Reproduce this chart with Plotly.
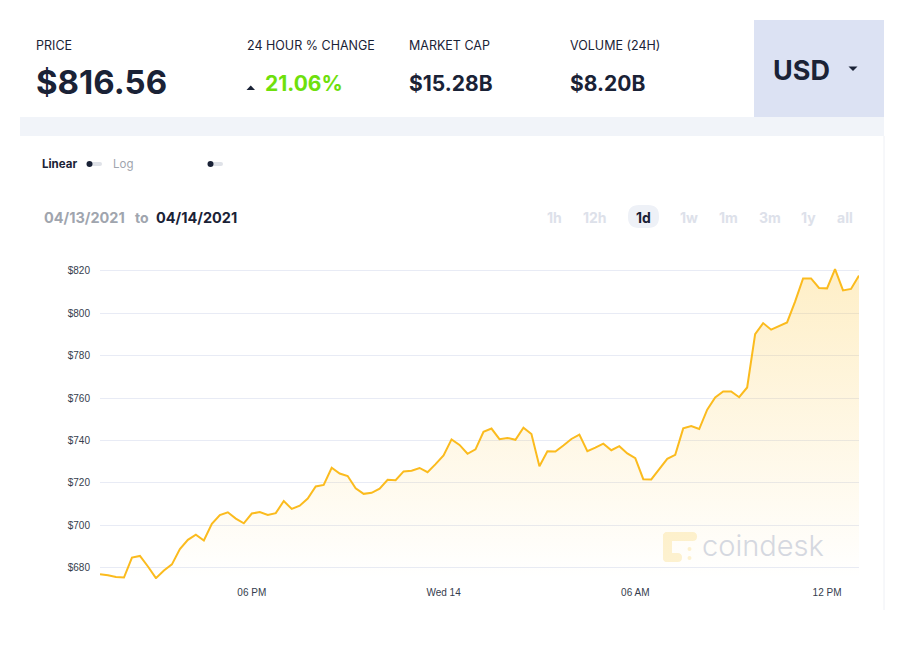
import plotly.graph_objects as go
import pandas as pd

# ---------------- data ----------------
prices = [
    676.9, 676.4, 675.5, 675.3, 684.7, 685.5, 680.5, 675.0, 678.6, 681.5,
    688.7, 693.1, 695.5, 692.8, 700.6, 704.8, 706.1, 703.1, 700.9, 705.5,
    706.2, 704.8, 705.7, 711.4, 707.7, 709.2, 712.6, 718.3, 719.0, 727.1,
    724.4, 723.2, 717.4, 714.8, 715.3, 717.2, 721.4, 721.2, 725.4, 725.7,
    727.0, 725.0, 728.8, 732.9, 740.5, 737.9, 733.7, 735.8, 744.1, 745.6,
    740.6, 741.2, 740.3, 746.0, 743.0, 727.8, 734.9, 734.8, 737.6, 740.7,
    742.8, 734.9, 736.6, 738.5, 735.4, 737.3, 733.9, 731.6, 721.7, 721.6,
    726.5, 731.3, 733.2, 745.7, 746.8, 745.4, 754.5, 760.3, 763.1, 763.1,
    760.4, 765.0, 790.2, 795.4, 792.3, 794.0, 795.7, 805.5, 816.5, 816.5,
    812.0, 811.8, 820.9, 810.8, 811.5, 817.8,
]
times = pd.date_range(start="2021-04-13 13:15", periods=len(prices), freq="15min")

y_tick_vals = [680, 700, 720, 740, 760, 780, 800, 820]
y_tick_text = [f"${v}" for v in y_tick_vals]
x_tick_vals = ["2021-04-13 18:00", "2021-04-14 00:00", "2021-04-14 06:00", "2021-04-14 12:00"]
x_tick_text = ["06 PM", "Wed 14", "06 AM", "12 PM"]

header_labels = ["PRICE", "24 HOUR % CHANGE", "MARKET CAP", "VOLUME (24H)"]
header_values = ["$816.56", "21.06%", "$15.28B", "$8.20B"]
currency = "USD"
periods = ["1h", "12h", "1d", "1w", "1m", "3m", "1y", "all"]
active_period = "1d"
date_from, date_to = "04/13/2021", "04/14/2021"

# ---------------- layout geometry (window pixels) ----------------
OFF = 8                      # page body margin
W, H = 905 - OFF, 672 - OFF  # figure size
L, T, PW, PH = 100, 268, 759, 311   # plot area in window pixels
ML, MT = L - OFF, T - OFF
MR = W - ML - PW
MB = H - MT - PH


def px(x):
    return (x - L) / PW


def py(y):
    return (T + PH - y) / PH


DARK = "#1a2236"
GRAY = "#a0a5ae"
LIGHT = "#dde1ea"
FONT = "Inter"

fig = go.Figure()
fig.add_trace(go.Scatter(
    x=times, y=prices, mode="lines",
    line=dict(color="#fbbb1e", width=2),
    fill="tozeroy",
    fillgradient=dict(type="vertical", start=675, stop=821,
                      colorscale=[[0, "rgba(252,196,54,0.0)"], [1, "rgba(252,196,54,0.28)"]]),
    hoverinfo="skip", showlegend=False,
))

shapes = []
annotations = []


def rrect(x0, y0, x1, y1, r, color, layer="below"):
    r = min(r, (x1 - x0) / 2, (y1 - y0) / 2)
    pts = [
        f"M {px(x0 + r)},{py(y0)}",
        f"L {px(x1 - r)},{py(y0)}",
        f"Q {px(x1)},{py(y0)} {px(x1)},{py(y0 + r)}",
        f"L {px(x1)},{py(y1 - r)}",
        f"Q {px(x1)},{py(y1)} {px(x1 - r)},{py(y1)}",
        f"L {px(x0 + r)},{py(y1)}",
        f"Q {px(x0)},{py(y1)} {px(x0)},{py(y1 - r)}",
        f"L {px(x0)},{py(y0 + r)}",
        f"Q {px(x0)},{py(y0)} {px(x0 + r)},{py(y0)}",
        "Z",
    ]
    shapes.append(dict(type="path", xref="paper", yref="paper", path=" ".join(pts),
                       fillcolor=color, line=dict(width=0), layer=layer))


def rect(x0, y0, x1, y1, color, layer="below"):
    shapes.append(dict(type="rect", xref="paper", yref="paper",
                       x0=px(x0), x1=px(x1), y0=py(y1), y1=py(y0),
                       fillcolor=color, line=dict(width=0), layer=layer))


def circle(cx, cy, r, color, layer="above"):
    shapes.append(dict(type="circle", xref="paper", yref="paper",
                       x0=px(cx - r), x1=px(cx + r), y0=py(cy + r), y1=py(cy - r),
                       fillcolor=color, line=dict(width=0), layer=layer))


def tri(pts, color):
    path = "M " + " L ".join(f"{px(a)},{py(b)}" for a, b in pts) + " Z"
    shapes.append(dict(type="path", xref="paper", yref="paper", path=path,
                       fillcolor=color, line=dict(width=0), layer="above"))


def text(x, y, s, size, color=DARK, weight=400, anchor="left", family=FONT):
    annotations.append(dict(xref="paper", yref="paper", x=px(x), y=py(y), text=s,
                            showarrow=False, xanchor=anchor, yanchor="middle",
                            font=dict(family=family, size=size, color=color, weight=weight)))


# background panels
rect(20, 117, 884, 136, "#f1f4f9")
rect(754, 20, 884, 117, "#dce2f3")
shapes.append(dict(type="line", xref="paper", yref="paper", x0=px(884), x1=px(884),
                   y0=py(136), y1=py(610), line=dict(color="#eef0f5", width=1), layer="below"))

# header
label_x = [35, 246, 408, 569]
for lx, lab in zip(label_x, header_labels):
    text(lx - 1, 45.5, lab, 12.5, DARK, 400)
text(34, 82, header_values[0], 33, DARK, 700)
tri([(246.5, 90), (255, 90), (250.75, 85.5)], DARK)
text(263, 84, header_values[1], 21, "#6ee00c", 700)
text(407, 84, header_values[2], 21, DARK, 700)
text(568, 84, header_values[3], 21, DARK, 700)
text(771, 70.5, currency, 27, DARK, 700)
tri([(848.5, 66.5), (857.5, 66.5), (853, 71)], DARK)

# toggles
text(40, 164, "Linear", 11.5, DARK, 700)
rrect(87, 162, 102, 166, 2, "#dfe2e8")
circle(89.5, 164, 3, DARK)
text(111, 164, "Log", 11.5, GRAY, 400)
rrect(208, 162, 223, 166, 2, "#dfe2e8")
circle(210.5, 164, 3, DARK)

# date range
text(42, 217, date_from, 14.5, GRAY, 700)
text(133, 217, "to", 14, GRAY, 700)
text(154, 217, date_to, 14.5, DARK, 700)

# period buttons
period_x = [554.5, 595, 643.5, 688.5, 728.5, 770, 808.5, 845]
for cx, p in zip(period_x, periods):
    if p == active_period:
        rrect(628, 205, 659, 228, 11, "#eef1f7")
        text(cx, 217, p, 14, DARK, 700, anchor="center")
    else:
        text(cx, 217, p, 14, LIGHT, 700, anchor="center")

# watermark
WM = "#fdf2d2"
rrect(663, 532, 697, 541, 4.5, WM)
rrect(663, 532, 672, 562, 4.5, WM)
rrect(663, 553, 682, 562, 4.5, WM)
circle(689.5, 549, 2, WM, layer="below")
circle(689.5, 558, 2, WM, layer="below")
text(700, 545, "coindesk", 29, "#d5d8e0", 300)

fig.update_layout(
    width=W, height=H,
    margin=dict(l=ML, r=MR, t=MT, b=MB, pad=0),
    paper_bgcolor="white", plot_bgcolor="white",
    shapes=shapes, annotations=annotations,
    showlegend=False,
    xaxis=dict(
        range=[times[0], times[-1]],
        tickmode="array", tickvals=x_tick_vals, ticktext=x_tick_text,
        showgrid=False, zeroline=False, showline=False,
        ticks="outside", ticklen=4, tickcolor="rgba(0,0,0,0)",
        tickfont=dict(family="Liberation Sans", size=10, color="#353d4d"),
        fixedrange=True,
    ),
    yaxis=dict(
        range=[674.6, 821.4],
        tickmode="array", tickvals=y_tick_vals, ticktext=y_tick_text,
        showgrid=True, gridcolor="#e8ebf5", gridwidth=1,
        zeroline=False, showline=False,
        ticks="outside", ticklen=7, tickcolor="rgba(0,0,0,0)",
        tickfont=dict(family="Liberation Sans", size=10, color="#353d4d"),
        fixedrange=True,
    ),
)

fig.write_html("out.html", config={"displayModeBar": False})
